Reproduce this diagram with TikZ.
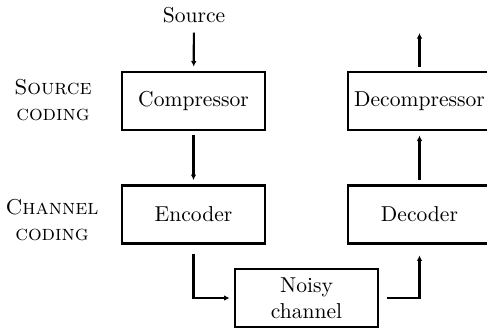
\documentclass[tikz,border=0pt]{standalone}
\usetikzlibrary{arrows.meta}

\begin{document}
\begin{tikzpicture}[x=0.4637pt, y=-0.4637pt,
	block/.style={draw=black, line width=1pt, minimum width=66.3pt, minimum height=26.9pt, inner sep=0pt, align=center},
	link/.style={line width=1pt, -{Latex[length=2.6pt,width=2.6pt]}, shorten <=2pt, shorten >=2pt},
	side/.style={align=center}]
	\useasboundingbox (0,0) rectangle (487,328);

	% left labels
	\node[side] (srccoding) at (53,100) {\textsc{Source}\\\textsc{coding}};
	\node[side] (chancoding) at (52,220) {\textsc{Channel}\\\textsc{coding}};

	\node (src) at (194,15) {Source};
	\node[block] (comp) at (193.5,101) {Compressor};
	\node[block] (enc) at (193.5,214.5) {Encoder};
	\node[block] (noisy) at (306.5,298) {Noisy\\channel};
	\node[block] (dec) at (419.5,214.5) {Decoder};
	\node[block] (decomp) at (419.5,101) {Decompressor};
	\coordinate (out) at (419.5,33);

	\draw[link, shorten <=1pt] (src) -- (comp);
	\draw[link] (comp) -- (enc);
	\draw[link, shorten <=4.5pt] (enc) |- (noisy);
	\draw[link, shorten <=3.5pt, shorten >=5pt] (noisy) -| (dec);
	\draw[link] (dec) -- (decomp);
	\draw[link, shorten >=0pt] (decomp) -- (out);
\end{tikzpicture}
\end{document}
